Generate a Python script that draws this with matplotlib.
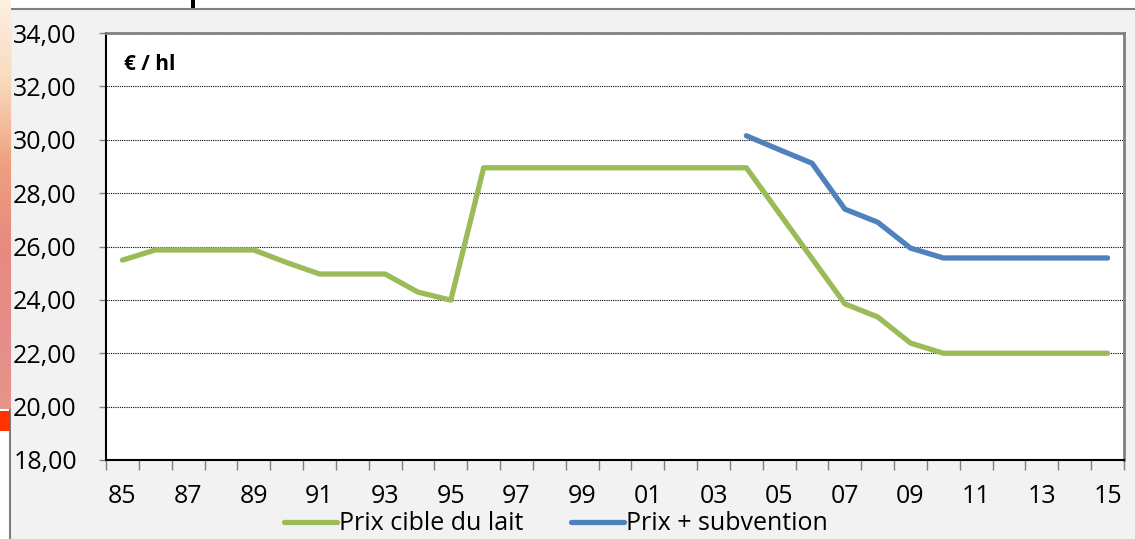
import matplotlib
matplotlib.use('Agg')
import matplotlib.pyplot as plt
from matplotlib.patches import Rectangle
from matplotlib.colors import LinearSegmentedColormap
import numpy as np

plt.rcParams['font.family'] = ['Open Sans', 'DejaVu Sans']

years = ['85', '86', '87', '88', '89', '90', '91', '92', '93', '94', '95',
         '96', '97', '98', '99', '00', '01', '02', '03', '04', '05', '06',
         '07', '08', '09', '10', '11', '12', '13', '14', '15']
prix_cible = [25.49, 25.87, 25.87, 25.87, 25.87, 25.40, 24.97, 24.97, 24.97, 24.29, 23.99,
              28.95, 28.95, 28.95, 28.95, 28.95, 28.95, 28.95, 28.95, 28.95, 27.25, 25.55,
              23.85, 23.36, 22.38, 22.00, 22.00, 22.00, 22.00, 22.00, 22.00]
# la serie "subvention" commence en 2004
prix_subv = [None] * 19 + [30.15, 29.63, 29.12, 27.40, 26.91, 25.94, 25.57,
                           25.57, 25.57, 25.57, 25.57, 25.57]

W, H = 1135, 539
fig = plt.figure(figsize=(W / 100, H / 100), dpi=100)
fig.patch.set_facecolor('white')

# bande degradee du fond de diapo a gauche
strip = fig.add_axes([0, 1 - 409 / H, 10 / W, 409 / H])
cmap = LinearSegmentedColormap.from_list('bg', ['#fdf0e2', '#f9d9bd', '#eea07f', '#e78a80', '#e58d8a', '#e6958a'])
strip.imshow(np.linspace(0, 1, 100).reshape(-1, 1), aspect='auto', cmap=cmap)
strip.axis('off')
fig.patches.append(Rectangle((0, 1 - 431 / H), 10 / W, 20 / H, transform=fig.transFigure,
                             facecolor='#ff3300', edgecolor='none'))
fig.patches.append(Rectangle((191 / W, 1 - 8 / H), 4 / W, 8 / H, transform=fig.transFigure,
                             facecolor='black', edgecolor='none'))

# zone du graphique (fond gris)
fig.patches.append(Rectangle((10 / W, -0.01), 1.0, 1 - 8.5 / H + 0.01, transform=fig.transFigure,
                             facecolor='#f2f2f2', edgecolor='#7f7f7f', linewidth=1.5, zorder=-5))

ax = fig.add_axes([106 / W, 1 - 460 / H, (1124 - 106) / W, (460 - 33) / H])
x = np.arange(len(years))
subv = np.array([np.nan if v is None else v for v in prix_subv])
ax.plot(x, prix_cible, color='#9bbb59', lw=3.8, label='Prix cible du lait', solid_capstyle='round')
ax.plot(x, subv, color='#4f81bd', lw=3.8, label='Prix + subvention', solid_capstyle='round')

ax.set_xlim(-0.5, len(years) - 0.5)
ax.set_ylim(18, 34)
ax.set_yticks(np.arange(18, 35, 2))
ax.yaxis.set_major_formatter(plt.FuncFormatter(lambda v, p: ('%.2f' % v).replace('.', ',')))
ax.tick_params(axis='y', length=5, width=1, color='#808080', pad=16, labelsize=18)
ax.set_xticks(x[::2])
ax.set_xticklabels(years[::2])
ax.set_xticks(np.arange(-0.5, len(years), 1), minor=True)
ax.tick_params(axis='x', which='major', length=0, pad=17, labelsize=18)
ax.tick_params(axis='x', which='minor', length=7, width=1, color='#808080')
ax.grid(axis='y', color='black', linestyle=(0, (1, 1)), linewidth=0.8)
for sp in ['left', 'bottom']:
    ax.spines[sp].set_color('black')
    ax.spines[sp].set_linewidth(1.5)
for sp in ['top', 'right']:
    ax.spines[sp].set_color('#808080')
    ax.spines[sp].set_linewidth(2)
ax.text(0.018, 0.95, '€ / hl', transform=ax.transAxes, fontsize=15, fontweight='bold',
        va='top', ha='left')

fig.legend(loc='center', bbox_to_anchor=(556 / W, 1 - 524 / H), ncol=2, frameon=False,
           fontsize=18, handlelength=2.1, handletextpad=0.1, columnspacing=1.9,
           borderpad=0, borderaxespad=0)

fig.savefig('out.png', dpi=100)
